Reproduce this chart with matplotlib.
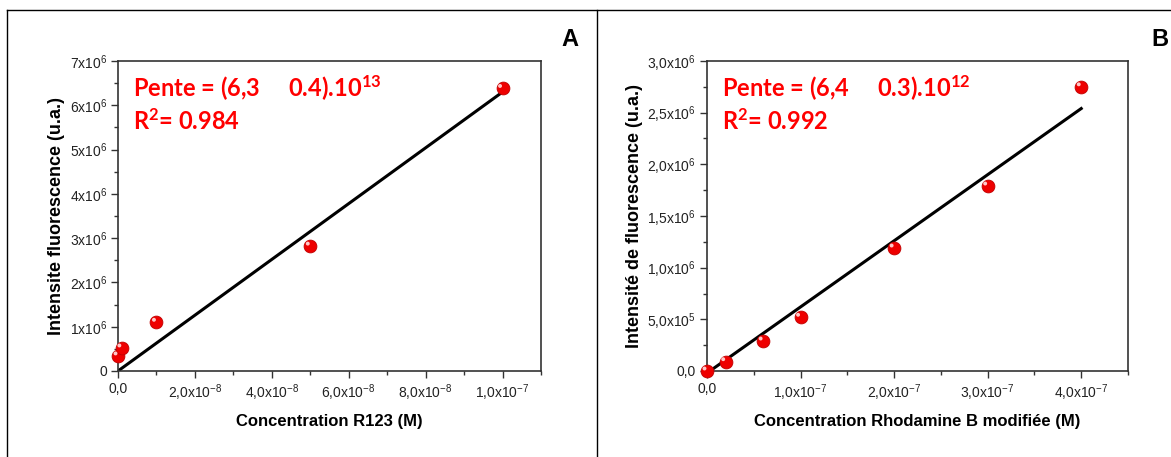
import numpy as np
import matplotlib
matplotlib.use("Agg")
import matplotlib.pyplot as plt
from matplotlib.lines import Line2D
from matplotlib.ticker import FuncFormatter, MultipleLocator
from matplotlib.transforms import ScaledTranslation

# data panel A (R123)
conc_a = [0.0, 1e-9, 1e-8, 5e-8, 1e-7]
inten_a = [3.4e5, 5.2e5, 1.1e6, 2.82e6, 6.38e6]
slope_a, icpt_a = 6.3e13, 0.0
fit_x_a = [0.0, 1e-7]

# data panel B (Rhodamine B modifiee)
conc_b = [0.0, 2e-8, 6e-8, 1e-7, 2e-7, 3e-7, 4e-7]
inten_b = [0.0, 9.0e4, 2.9e5, 5.2e5, 1.19e6, 1.79e6, 2.75e6]
slope_b, icpt_b = 6.4e12, -2.0e4
fit_x_b = [3.1e-9, 4e-7]

W, H = 1171, 457
fig = plt.figure(figsize=(W / 100, H / 100), dpi=100)

# outer frame of the composite figure
fx = lambda px: px / W
fy = lambda py: 1 - py / H
for xs, ys in [([fx(7), 1], [fy(10), fy(10)]),
               ([fx(7), fx(7)], [fy(10), 0]),
               ([fx(597), fx(597)], [fy(10), 0])]:
    fig.add_artist(Line2D(xs, ys, color="black", lw=1.0))


def sci(v, dec, zero):
    if abs(v) < 1e-20:
        return zero
    e = int(np.floor(np.log10(abs(v)) + 1e-9))
    m = v / 10 ** e
    if dec:
        ms = f"{m:.{dec}f}".replace(".", "{,}")
    else:
        ms = f"{m:.0f}"
    return r"$\mathregular{" + ms + "x10^{" + str(e) + "}}$"


def panel(rect, x, y, fx_, slope, icpt, xmax, ymax, xmaj, ymaj,
          xfmt, yfmt, xlabel, ylabel, pente, r2, letter, letter_x):
    ax = fig.add_axes(rect)
    ax.set_xlim(0, xmax)
    ax.set_ylim(0, ymax)
    fx_arr = np.array(fx_)
    ax.plot(fx_arr, slope * fx_arr + icpt, color="black", lw=2.2, zorder=2)
    ax.scatter(x, y, s=85, color="#ee0000", edgecolors="#c00000",
               linewidths=0.6, zorder=3, clip_on=False)
    hl = ax.transData + ScaledTranslation(-0.025, 0.025, fig.dpi_scale_trans)
    ax.scatter(x, y, s=8, color="#ffc8c8", edgecolors="none",
               zorder=4, transform=hl, clip_on=False)
    ax.xaxis.set_major_locator(MultipleLocator(xmaj))
    ax.xaxis.set_minor_locator(MultipleLocator(xmaj / 2))
    ax.yaxis.set_major_locator(MultipleLocator(ymaj))
    ax.yaxis.set_minor_locator(MultipleLocator(ymaj / 2))
    ax.xaxis.set_major_formatter(FuncFormatter(lambda v, p: xfmt(v)))
    ax.yaxis.set_major_formatter(FuncFormatter(lambda v, p: yfmt(v)))
    ax.tick_params(which="major", direction="out", length=5, width=1.0,
                   color="#333333", pad=3)
    ax.tick_params(which="minor", direction="out", length=3, width=1.0,
                   color="#333333")
    for lb in ax.get_xticklabels() + ax.get_yticklabels():
        lb.set_fontfamily("Liberation Sans")
        lb.set_fontsize(10)
        lb.set_color("#222222")
    for sp in ax.spines.values():
        sp.set_color("#333333")
        sp.set_linewidth(1.2)
    ax.set_xlabel(xlabel, labelpad=8, family="Liberation Sans",
                  size=12, weight="bold")
    ax.set_ylabel(ylabel, labelpad=3, family="Liberation Sans",
                  size=13, weight="bold")
    red = dict(family="Lato", weight="bold", size=17, color="#ff0000",
               transform=ax.transAxes, va="baseline", ha="left")
    ax.text(0.035, 0.885, pente, **red)
    ax.text(0.035, 0.777, r2, **red)
    fig.text(letter_x / W, fy(46), letter, family="Liberation Sans",
             weight="bold", size=17, ha="center", va="baseline")
    return ax


panel([118 / W, 1 - 371 / H, 423 / W, 310 / H], conc_a, inten_a, fit_x_a,
      slope_a, icpt_a, 1.1e-7, 7e6, 2e-8, 1e6,
      lambda v: sci(v, 1, "0,0"), lambda v: sci(v, 0, "0"),
      "Concentration R123 (M)", "Intensite fluorescence (u.a.)",
      r"Pente = (6,3     0.4).10$\mathregular{^{13}}$",
      r"R$\mathregular{^{2}}$= 0.984", "A", 570)

panel([707 / W, 1 - 371 / H, 421 / W, 310 / H], conc_b, inten_b, fit_x_b,
      slope_b, icpt_b, 4.5e-7, 3e6, 1e-7, 5e5,
      lambda v: sci(v, 1, "0,0"), lambda v: sci(v, 1, "0,0"),
      "Concentration Rhodamine B modifiée (M)",
      "Intensité de fluorescence (u.a.)",
      r"Pente = (6,4     0.3).10$\mathregular{^{12}}$",
      r"R$\mathregular{^{2}}$= 0.992", "B", 1160)

fig.savefig("out.png", dpi=100)
